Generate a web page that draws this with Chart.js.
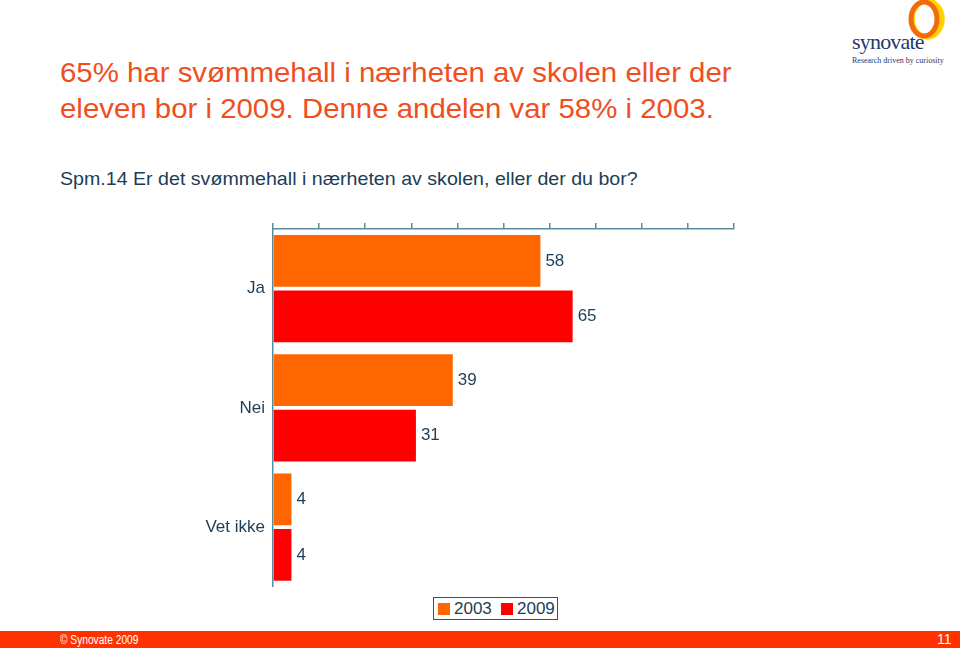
<!DOCTYPE html>
<html>
<head>
<meta charset="utf-8">
<script src="https://cdn.jsdelivr.net/npm/chart.js@4"></script>
<style>
  html,body{margin:0;padding:0;width:960px;height:650px;overflow:hidden;background:#fff;font-family:"Liberation Sans",Arial,sans-serif;}
  #title{position:absolute;left:60px;top:55px;color:#f04e1e;font-size:28px;line-height:36px;white-space:nowrap;transform:scaleX(1.05);transform-origin:0 0;}
  #sub{position:absolute;left:60px;top:169px;color:#1c3d55;font-size:18.5px;line-height:20px;white-space:nowrap;transform:scaleX(1.06);transform-origin:0 0;}
  #wrap{position:absolute;left:0;top:205px;width:960px;height:400px;}
  #legend{position:absolute;left:433px;top:597px;width:125px;height:23px;border:1px solid #2c5566;font-size:17px;color:#1c3d55;box-sizing:border-box;background:#fff;}
  #legend .it{position:absolute;top:1px;line-height:20px;}
  #legend span.b{display:inline-block;width:12px;height:12px;margin-right:4px;vertical-align:-1px;}
  #footer{position:absolute;left:0;top:631px;width:960px;height:17px;background:#ff3300;color:#fff;font-size:12px;}
  #footer .l{position:absolute;left:60px;top:2px;white-space:nowrap;transform:scaleX(0.85);transform-origin:0 0;}
  #footer .r{position:absolute;left:937px;top:0px;font-size:14px;}
  #logo{position:absolute;left:850px;top:0;width:110px;height:70px;}
  #logo .name{position:absolute;left:2px;top:29px;font-family:"Liberation Serif",serif;font-size:22px;color:#1d3a70;letter-spacing:-0.8px;}
  #logo .tag{position:absolute;left:2px;top:56px;font-family:"Liberation Serif",serif;font-size:8px;color:#1d3a70;white-space:nowrap;}
  #logo svg{position:absolute;left:55px;top:0;}
</style>
</head>
<body>
<div id="title">65% har svømmehall i nærheten av skolen eller der<br>eleven bor i 2009. Denne andelen var 58% i 2003.</div>
<div id="sub">Spm.14 Er det svømmehall i nærheten av skolen, eller der du bor?</div>
<div id="logo">
  <svg width="50" height="42" viewBox="0 0 50 42">
    <ellipse cx="22" cy="19" rx="15" ry="18" fill="none" stroke="#ffd200" stroke-width="5.5"/>
    <ellipse cx="19" cy="19" rx="13" ry="17" fill="none" stroke="#f26a10" stroke-width="5"/>
  </svg>
  <div class="name">synovate</div>
  <div class="tag">Research driven by curiosity</div>
</div>
<div id="wrap"><canvas id="c"></canvas></div>
<div id="legend"></div>
<div id="footer"><span class="l">© Synovate 2009</span><span class="r">11</span></div>
<script>
const categories = ["Ja", "Nei", "Vet ikke"];
const seriesNames = ["2003", "2009"];
const values2003 = [58, 39, 4];
const values2009 = [65, 31, 4];
const seriesColors = ["#ff6600", "#ff0000"];
const axisMax = 100;
const axisStep = 10;

const AXIS_COLOR = "#5b8c9c";
const TEXT_COLOR = "#1c3d55";
const FONT = "'Liberation Sans', Arial, sans-serif";

const valueLabels = {
  id: "valueLabels",
  afterDatasetsDraw(chart) {
    const ctx = chart.ctx;
    ctx.save();
    ctx.font = "17px " + FONT;
    ctx.fillStyle = TEXT_COLOR;
    ctx.textAlign = "left";
    ctx.textBaseline = "middle";
    chart.data.datasets.forEach((ds, i) => {
      chart.getDatasetMeta(i).data.forEach((bar, j) => {
        ctx.fillText(String(ds.data[j]), bar.x + 5, bar.y);
      });
    });
    ctx.restore();
  }
};

const chart = new Chart(document.getElementById("c"), {
  type: "bar",
  data: {
    labels: categories,
    datasets: [
      { label: seriesNames[0], data: values2003, backgroundColor: seriesColors[0] },
      { label: seriesNames[1], data: values2009, backgroundColor: seriesColors[1] }
    ]
  },
  options: {
    indexAxis: "y",
    responsive: true,
    maintainAspectRatio: false,
    animation: false,
    categoryPercentage: 0.93,
    barPercentage: 0.935,
    layout: { padding: { top: 14, right: 226, bottom: 5, left: 0 } },
    plugins: { legend: { display: false }, tooltip: { enabled: false } },
    scales: {
      x: {
        position: "top",
        min: 0, max: axisMax,
        ticks: { display: false, stepSize: axisStep },
        grid: { drawOnChartArea: false, drawTicks: true, tickLength: 6, color: AXIS_COLOR, lineWidth: 1.5 },
        border: { color: AXIS_COLOR, width: 1.5 },
        afterFit(s) { s.height = 10; }
      },
      y: {
        ticks: { color: TEXT_COLOR, font: { size: 17, family: FONT }, padding: 8 },
        grid: { display: false, drawTicks: false },
        border: { color: AXIS_COLOR, width: 1.5 },
        afterFit(s) { s.width = 273; }
      }
    }
  },
  plugins: [valueLabels]
});

const lg = document.getElementById("legend");
const legendX = [4, 67];
chart.data.datasets.forEach((ds, i) => {
  const s = document.createElement("span");
  s.className = "it";
  s.style.left = legendX[i] + "px";
  s.innerHTML = '<span class="b" style="background:' + ds.backgroundColor + '"></span>' + ds.label;
  lg.appendChild(s);
});
</script>
</body>
</html>
